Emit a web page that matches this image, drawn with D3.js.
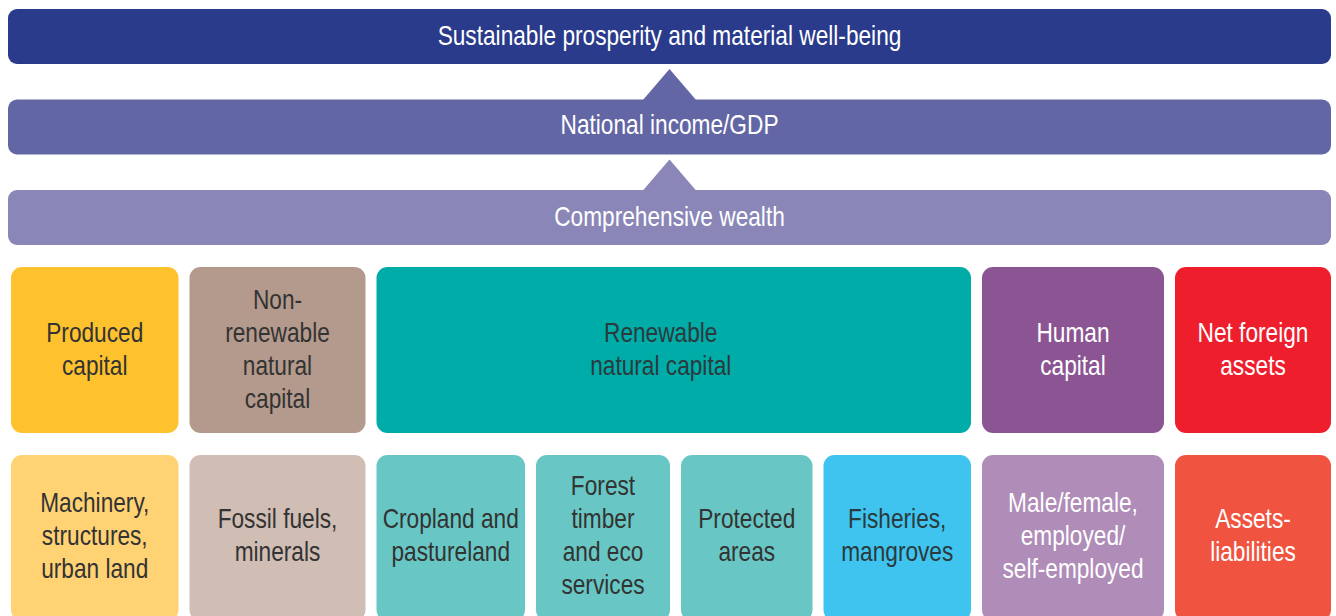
<!DOCTYPE html>
<html>
<head>
<meta charset="utf-8">
<script src="https://cdn.jsdelivr.net/npm/d3@7"></script>
<style>
  body { margin: 0; background: #fff; }
  svg text { font-family: "Liberation Sans", Arial, sans-serif; }
</style>
</head>
<body>
<div id="chart"></div>
<script>
// wealth levels, top to bottom
const levels = ["Sustainable prosperity and material well-being", "National income/GDP", "Comprehensive wealth"];
const levelColors = ["#293b8a", "#6366a5", "#8a87b8"];

// kinds of capital (top row) and how many component columns each covers
const capitals = ["Produced\ncapital", "Non-\nrenewable\nnatural\ncapital", "Renewable\nnatural capital", "Human\ncapital", "Net foreign\nassets"];
const capitalSpans = [1, 1, 4, 1, 1];
const capitalColors = ["#fec22e", "#b49a8c", "#00aca7", "#8b5594", "#ee1e2d"];
const capitalText = ["#333", "#333", "#2b3a3d", "#fff", "#fff"];

// components (bottom row)
const components = ["Machinery,\nstructures,\nurban land", "Fossil fuels,\nminerals", "Cropland and\npastureland", "Forest\ntimber\nand eco\nservices", "Protected\nareas", "Fisheries,\nmangroves", "Male/female,\nemployed/\nself-employed", "Assets-\nliabilities"];
const componentColors = ["#ffd274", "#d0bdb4", "#68c7c4", "#68c7c4", "#68c7c4", "#3ec4ef", "#b08cb8", "#f05340"];
const componentText = ["#333", "#333", "#333", "#333", "#333", "#2b3a3d", "#fff", "#fff"];

const W = 1336, H = 616;
const gap = 11;
const fontSize = 28, squeeze = 0.81, lineH = 33;

const svg = d3.select("#chart").append("svg")
  .attr("width", W)
  .attr("height", H);

// column boundaries (gap centres) for the 8 component columns
const x = d3.scaleLinear()
  .domain(d3.range(0, 9))
  .range([5.5, 184, 371, 530.5, 675.5, 818, 976.5, 1169.5, 1336.5]);

const yLevel = d3.scaleBand()
  .domain(levels)
  .range([9, 245])
  .paddingInner(35.5 / 90.5);

const barX0 = 8, barX1 = 1331;
const cx = (barX0 + barX1) / 2;

// condensed-looking multi-line label centred on (xc, yc)
function drawLabel(label, xc, yc, color) {
  const lines = label.split("\n");
  const t = svg.append("text")
    .attr("transform", `translate(${xc},0) scale(${squeeze},1)`)
    .attr("text-anchor", "middle")
    .attr("font-size", fontSize)
    .attr("fill", color);
  lines.forEach((ln, i) => {
    t.append("tspan")
      .attr("x", 0)
      .attr("y", yc + (i - (lines.length - 1) / 2) * lineH)
      .attr("dy", "0.35em")
      .text(ln);
  });
}

// arrows between the bars
const triHalf = 27, triGap = 5;
levels.slice(1).forEach((lv, i) => {
  const top = yLevel(levels[i]) + yLevel.bandwidth() + triGap;
  const base = yLevel(lv) + 1;
  svg.append("path")
    .attr("d", d3.line()([[cx, top], [cx + triHalf, base], [cx - triHalf, base]]) + "Z")
    .attr("fill", levelColors[i + 1]);
});

svg.selectAll("rect.level").data(levels).enter().append("rect")
  .attr("class", "level")
  .attr("x", barX0)
  .attr("y", d => yLevel(d))
  .attr("width", barX1 - barX0)
  .attr("height", yLevel.bandwidth())
  .attr("rx", 9)
  .attr("fill", (d, i) => levelColors[i]);

levels.forEach((lv, i) => {
  drawLabel(lv, cx, yLevel(lv) + yLevel.bandwidth() / 2 - (i == 1 ? 3 : 1.5), "#fff");
});

// top row: capitals
const rowTop = [267, 455];
const rowH = [166, 166];
let col = 0;
capitals.forEach((c, i) => {
  const x0 = x(col) + gap / 2, x1 = x(col + capitalSpans[i]) - gap / 2;
  col += capitalSpans[i];
  svg.append("rect")
    .attr("x", x0).attr("y", rowTop[0])
    .attr("width", x1 - x0).attr("height", rowH[0])
    .attr("rx", 11)
    .attr("fill", capitalColors[i]);
  // the wide renewable box has its label a little left of centre
  const shift = capitalSpans[i] > 1 ? -13 : 0;
  drawLabel(c, (x0 + x1) / 2 + shift, rowTop[0] + rowH[0] / 2 - 1, capitalText[i]);
});

// bottom row: components
components.forEach((c, i) => {
  const x0 = x(i) + gap / 2, x1 = x(i + 1) - gap / 2;
  svg.append("rect")
    .attr("x", x0).attr("y", rowTop[1])
    .attr("width", x1 - x0).attr("height", rowH[1])
    .attr("rx", 11)
    .attr("fill", componentColors[i]);
  drawLabel(c, (x0 + x1) / 2, rowTop[1] + rowH[1] / 2 - 3, componentText[i]);
});
</script>
</body>
</html>
